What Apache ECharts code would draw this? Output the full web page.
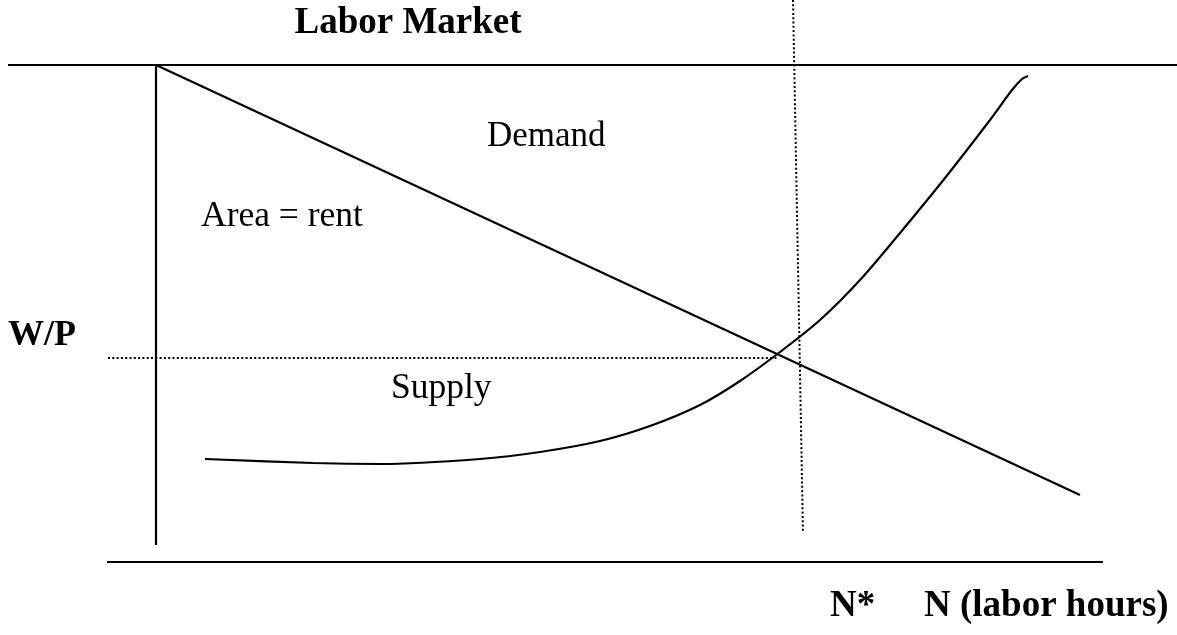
<!DOCTYPE html>
<html>
<head>
<meta charset="utf-8">
<title>Labor Market</title>
<script src="https://cdn.jsdelivr.net/npm/echarts@6/dist/echarts.min.js"></script>
<style>
  html, body { margin: 0; padding: 0; background: #fff; }
  #chart { width: 1177px; height: 635px; }
</style>
</head>
<body>
<div id="chart"></div>
<script>
// Labor market diagram: demand line, supply curve, equilibrium N* and W/P.
// N measured from the vertical axis, W from the bottom line.

var demandN = [0, 924];
var demandW = [497, 67];

var supplyN = [49, 157, 224, 324, 384, 444, 494, 544, 584, 624, 664, 704, 744, 789, 834, 856, 866, 872];
var supplyW = [103, 99, 98, 103, 110, 121, 136, 157, 181, 210, 242, 282, 329, 384, 442, 472, 483, 486];

var topLineN = [-148, 1021];
var topLineW = [497, 497];
var wageAxisN = [0, 0];
var wageAxisW = [497, 17];
var hoursAxisN = [-49, 947];
var hoursAxisW = [0, 0];

var eqDropN = [637, 647];
var eqDropW = [562, 29];
var eqWageN = [-48, 622];
var eqWageW = [204, 204];

function pairs(xs, ys) {
  var out = [];
  for (var i = 0; i < xs.length; i++) {
    out.push([xs[i], ys[i]]);
  }
  return out;
}

function lineSeries(name, xs, ys, style, smooth) {
  return {
    name: name,
    type: "line",
    data: pairs(xs, ys),
    showSymbol: false,
    symbol: "none",
    smooth: smooth ? 0.3 : false,
    silent: true,
    animation: false,
    lineStyle: style
  };
}

var solid = { color: "#000", width: 2.2, type: "solid" };
var dotted = { color: "#000", width: 2, type: [2, 2.3] };

var serif = "'Liberation Serif', 'Times New Roman', serif";

var chart = echarts.init(document.getElementById("chart"), null, { renderer: "canvas" });

var option = {
  backgroundColor: "#fff",
  animation: false,
  grid: { left: 0, right: 0, top: 0, bottom: 0 },
  xAxis: { type: "value", min: -156, max: 1021, show: false },
  yAxis: { type: "value", min: -73, max: 562, show: false },
  series: [
    lineSeries("top", topLineN, topLineW, solid),
    lineSeries("wageAxis", wageAxisN, wageAxisW, solid),
    lineSeries("hoursAxis", hoursAxisN, hoursAxisW, solid),
    lineSeries("eqDrop", eqDropN, eqDropW, dotted),
    lineSeries("eqWage", eqWageN, eqWageW, dotted),
    lineSeries("Demand", demandN, demandW, solid),
    lineSeries("Supply", supplyN, supplyW, solid, true)
  ],
  graphic: [
    { type: "text", x: 408, y: 23, style: { text: "Labor Market", font: "bold 37px " + serif, fill: "#000", textAlign: "center", textVerticalAlign: "middle" } },
    { type: "text", x: 487, y: 137, style: { text: "Demand", font: "35px " + serif, fill: "#000", textAlign: "left", textVerticalAlign: "middle" } },
    { type: "text", x: 201, y: 217, style: { text: "Area = rent", font: "35.5px " + serif, fill: "#000", textAlign: "left", textVerticalAlign: "middle" } },
    { type: "text", x: 8, y: 336, style: { text: "W/P", font: "bold 36px " + serif, fill: "#000", textAlign: "left", textVerticalAlign: "middle" } },
    { type: "text", x: 391, y: 389, style: { text: "Supply", font: "35.5px " + serif, fill: "#000", textAlign: "left", textVerticalAlign: "middle" } },
    { type: "text", x: 830, y: 606, style: { text: "N*", font: "bold 37px " + serif, fill: "#000", textAlign: "left", textVerticalAlign: "middle" } },
    { type: "text", x: 924, y: 606, style: { text: "N (labor hours)", font: "bold 37px " + serif, fill: "#000", textAlign: "left", textVerticalAlign: "middle" } }
  ]
};

chart.setOption(option);
</script>
</body>
</html>
